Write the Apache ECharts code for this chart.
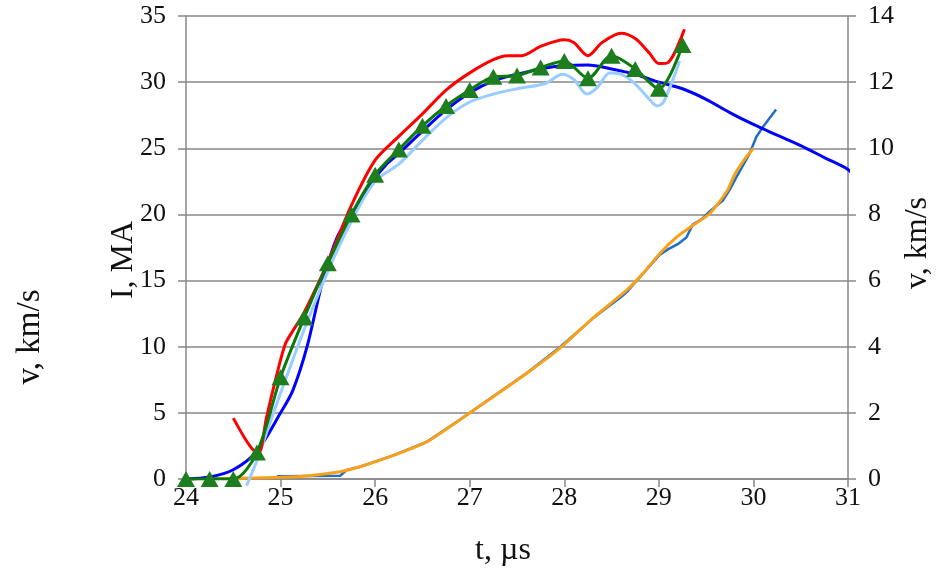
<!DOCTYPE html>
<html>
<head>
<meta charset="utf-8">
<script src="https://cdn.jsdelivr.net/npm/echarts@6/dist/echarts.min.js"></script>
<style>
html,body{margin:0;padding:0;background:#fff;}
#c{width:941px;height:584px;}
</style>
</head>
<body>
<div id="c"></div>
<script>
// ---- data (t in µs) ----
// current curves, left axis (I, MA)
var blueT   = [24, 24.25, 24.5, 24.75, 25.0, 25.13, 25.28, 25.44, 25.6, 25.75, 25.95, 26.12, 26.25, 26.5, 26.75, 27.0, 27.25, 27.5, 27.75, 28.0, 28.25, 28.5, 28.75, 29.0, 29.25, 29.5, 29.75, 30.0, 30.25, 30.5, 30.75, 31.0, 31.1];
var blueI   = [0, 0.15, 0.7, 2.1, 5.0, 6.7, 10.0, 14.8, 18.3, 20.0, 22.3, 23.8, 24.6, 26.3, 27.9, 29.2, 30.1, 30.6, 31.0, 31.25, 31.3, 31.0, 30.6, 30.0, 29.5, 28.7, 27.7, 26.8, 26.0, 25.2, 24.3, 23.4, 22.6];

var redT    = [24.5, 24.62, 24.71, 24.77, 24.85, 24.95, 25.05, 25.13, 25.25, 25.5, 25.75, 26.0, 26.25, 26.5, 26.75, 27.0, 27.25, 27.4, 27.55, 27.75, 28.0, 28.1, 28.25, 28.4, 28.6, 28.75, 28.9, 29.0, 29.1, 29.27];
var redI    = [4.6, 3.1, 2.2, 2.0, 4.6, 7.6, 10.2, 11.2, 12.6, 16.4, 20.7, 24.1, 25.9, 27.6, 29.4, 30.7, 31.7, 32.0, 32.0, 32.7, 33.2, 33.0, 32.0, 33.0, 33.7, 33.3, 32.2, 31.4, 31.5, 34.0];

var greenT  = [24, 24.25, 24.5, 24.75, 25.0, 25.25, 25.5, 25.75, 26.0, 26.25, 26.5, 26.75, 27.0, 27.25, 27.5, 27.75, 28.0, 28.25, 28.5, 28.75, 29.0, 29.25];
var greenI  = [0, 0, 0, 2.0, 7.7, 12.2, 16.3, 20.0, 23.0, 24.9, 26.7, 28.2, 29.4, 30.4, 30.5, 31.1, 31.6, 30.3, 32.0, 31.0, 29.5, 32.8];

var lightT  = [24.64, 24.75, 24.9, 25.0, 25.25, 25.5, 25.75, 26.0, 26.25, 26.5, 26.75, 27.0, 27.25, 27.5, 27.8, 27.98, 28.1, 28.24, 28.35, 28.48, 28.6, 28.73, 28.9, 28.98, 29.05, 29.22];
var lightI  = [-0.5, 1.4, 4.5, 6.5, 11.3, 15.7, 19.5, 22.5, 23.8, 25.6, 27.3, 28.5, 29.1, 29.5, 29.9, 30.6, 30.2, 29.1, 29.6, 30.7, 30.6, 30.0, 28.7, 28.2, 28.5, 31.6];

// velocity curves, right axis (v, km/s)
var orangeT = [24, 24.5, 25.0, 25.3, 25.63, 25.84, 26.2, 26.55, 26.9, 27.25, 27.6, 27.95, 28.3, 28.66, 28.83, 29.01, 29.19, 29.36, 29.54, 29.72, 29.8, 29.9, 30.0];
var orangeV = [0, 0.02, 0.05, 0.1, 0.22, 0.37, 0.72, 1.13, 1.8, 2.49, 3.19, 3.95, 4.86, 5.71, 6.21, 6.82, 7.32, 7.67, 8.03, 8.7, 9.2, 9.64, 10.0];

var steelT  = [24.96, 25.63, 25.7, 25.84, 26.2, 26.55, 26.9, 27.25, 27.6, 27.95, 28.3, 28.6, 28.66, 28.83, 29.01, 29.1, 29.2, 29.29, 29.36, 29.45, 29.54, 29.68, 29.75, 29.82, 29.96, 30.03, 30.1, 30.24];
var steelV  = [0.08, 0.1, 0.27, 0.37, 0.72, 1.13, 1.8, 2.5, 3.2, 3.98, 4.85, 5.5, 5.65, 6.2, 6.78, 6.95, 7.1, 7.3, 7.7, 7.85, 8.1, 8.43, 8.75, 9.13, 9.84, 10.34, 10.64, 11.17];

// axis ticks
var xTicks = {min: 24, max: 31, step: 1};
var iTicks = {min: 0, max: 35, step: 5};
var vTicks = {min: 0, max: 14, step: 2};

function zip(a, b) { return a.map(function (x, i) { return [x, b[i]]; }); }

var FONT = '"Liberation Serif", "Times New Roman", serif';
var GRAY = '#878787';

var chart = echarts.init(document.getElementById('c'), null, {renderer: 'canvas'});
chart.setOption({
  animation: false,
  backgroundColor: '#ffffff',
  grid: {left: 186, right: 93, top: 16, bottom: 105},
  xAxis: {
    type: 'value', min: xTicks.min, max: xTicks.max, interval: xTicks.step,
    axisLine: {show: true, onZero: false, lineStyle: {color: GRAY, width: 1.5}},
    axisTick: {show: true, inside: false, length: 8, lineStyle: {color: GRAY, width: 1.5}},
    axisLabel: {margin: 6, fontFamily: FONT, fontSize: 26, color: '#111'},
    splitLine: {show: false}
  },
  yAxis: [{
    type: 'value', position: 'left', min: iTicks.min, max: iTicks.max, interval: iTicks.step,
    axisLine: {show: true, lineStyle: {color: GRAY, width: 1.5}},
    axisTick: {show: true, inside: false, length: 8, lineStyle: {color: GRAY, width: 1.5}},
    axisLabel: {margin: 20, fontFamily: FONT, fontSize: 26, color: '#111'},
    splitLine: {show: true, lineStyle: {color: GRAY, width: 1.5}}
  }, {
    type: 'value', position: 'right', min: vTicks.min, max: vTicks.max, interval: vTicks.step,
    axisLine: {show: true, lineStyle: {color: GRAY, width: 1.5}},
    axisTick: {show: true, inside: false, length: 8, lineStyle: {color: GRAY, width: 1.5}},
    axisLabel: {margin: 20, fontFamily: FONT, fontSize: 26, color: '#111'},
    splitLine: {show: false}
  }],
  graphic: [
    {type: 'text', x: 503, y: 551, style: {text: 't, µs', font: '32px ' + FONT, fill: '#111', textAlign: 'center', textVerticalAlign: 'middle'}},
    {type: 'text', x: 124, y: 260, rotation: Math.PI / 2, style: {text: 'I, MA', font: '32px ' + FONT, fill: '#111', textAlign: 'center', textVerticalAlign: 'middle'}},
    {type: 'text', x: 918, y: 243, rotation: Math.PI / 2, style: {text: 'v, km/s', font: '32px ' + FONT, fill: '#111', textAlign: 'center', textVerticalAlign: 'middle'}},
    {type: 'text', x: 30, y: 337, rotation: Math.PI / 2, style: {text: 'v, km/s', font: '33px ' + FONT, fill: '#111', textAlign: 'center', textVerticalAlign: 'middle'}}
  ],
  series: [
    {name: 'v1', type: 'line', yAxisIndex: 1, data: zip(steelT, steelV), showSymbol: false, smooth: false,
     lineStyle: {color: '#1f6fc6', width: 2.5}, z: 2},
    {name: 'v2', type: 'line', yAxisIndex: 1, data: zip(orangeT, orangeV), showSymbol: false, smooth: 0.2,
     lineStyle: {color: '#f7a11a', width: 3}, z: 3},
    {name: 'I blue', type: 'line', yAxisIndex: 0, data: zip(blueT, blueI), showSymbol: false, smooth: 0.3, clip: false,
     lineStyle: {color: '#0000ff', width: 3}, z: 4},
    {name: 'I light', type: 'line', yAxisIndex: 0, data: zip(lightT, lightI), showSymbol: false, smooth: 0.3, clip: false,
     lineStyle: {color: '#99ccff', width: 3}, z: 5},
    {name: 'I red', type: 'line', yAxisIndex: 0, data: zip(redT, redI), showSymbol: false, smooth: 0.3,
     lineStyle: {color: '#ff0000', width: 3}, z: 6},
    {name: 'I green', type: 'line', yAxisIndex: 0, data: zip(greenT, greenI), smooth: 0.3,
     symbol: 'triangle', symbolSize: [18, 16], showSymbol: true,
     itemStyle: {color: '#1e7d1e', borderWidth: 0}, lineStyle: {color: '#0a7a0a', width: 3}, z: 7}
  ]
});
</script>
</body>
</html>
